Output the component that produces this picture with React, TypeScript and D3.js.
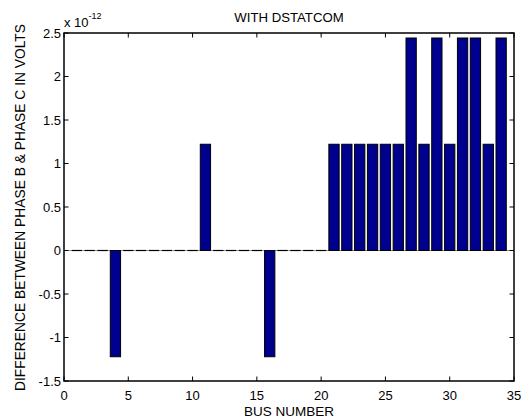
import React from "react";
import * as d3 from "d3";

const busNumbers: number[] = Array.from({ length: 34 }, (_, i) => i + 1);
const diffValues: number[] = [
  0, 0, 0, -1.2212, 0, 0, 0, 0, 0, 0,
  1.2212, 0, 0, 0, 0, -1.2212, 0, 0, 0, 0,
  1.2212, 1.2212, 1.2212, 1.2212, 1.2212, 1.2212, 2.4425, 1.2212, 2.4425, 1.2212,
  2.4425, 2.4425, 1.2212, 2.4425,
];
const xTicks: number[] = [0, 5, 10, 15, 20, 25, 30, 35];
const yTicks: number[] = [-1.5, -1, -0.5, 0, 0.5, 1, 1.5, 2, 2.5];
const yTickLabels: string[] = ["-1.5", "-1", "-0.5", "0", "0.5", "1", "1.5", "2", "2.5"];

const W = 522;
const H = 419;
const L = 64, R = 514, T = 33, B = 381;
const FONT = "Liberation Sans, Arial, sans-serif";

export default function App() {
  const x = d3.scaleLinear().domain([0, 35]).range([L, R]);
  const y = d3.scaleLinear().domain([-1.5, 2.5]).range([B, T]);
  const bw = 0.8;
  const tk = 4.5;
  return (
    <svg width={W} height={H} style={{ position: "absolute", left: 0, top: 0, background: "#fff" }}>
      <rect x={0} y={0} width={W} height={H} fill="#fff" />
      <line x1={x(0)} x2={x(35)} y1={y(0)} y2={y(0)} stroke="#999" strokeWidth={1} />
      {busNumbers.map((b, i) => {
        const v = diffValues[i];
        const x0 = x(b - bw / 2);
        const x1 = x(b + bw / 2);
        if (v === 0) {
          return <line key={b} x1={x0} x2={x1} y1={y(0)} y2={y(0)} stroke="#000" strokeWidth={1.2} />;
        }
        const top = Math.min(y(v), y(0));
        const h = Math.abs(y(v) - y(0));
        return (
          <rect key={b} x={x0} y={top} width={x1 - x0} height={h} fill="#00008F" stroke="#000" strokeWidth={1} />
        );
      })}
      <rect x={L} y={T} width={R - L} height={B - T} fill="none" stroke="#000" strokeWidth={1.5} />
      {xTicks.map((t) => (
        <g key={"x" + t}>
          <line x1={x(t)} x2={x(t)} y1={B} y2={B - tk} stroke="#000" />
          <line x1={x(t)} x2={x(t)} y1={T} y2={T + tk} stroke="#000" />
          <text x={x(t)} y={B + 18.5} fontSize={13} fontFamily={FONT} textAnchor="middle">{t}</text>
        </g>
      ))}
      {yTicks.map((t, i) => (
        <g key={"y" + t}>
          <line x1={L} x2={L + tk} y1={y(t)} y2={y(t)} stroke="#000" />
          <line x1={R} x2={R - tk} y1={y(t)} y2={y(t)} stroke="#000" />
          <text x={L - 3} y={y(t) + 4.5} fontSize={13} fontFamily={FONT} textAnchor="end">{yTickLabels[i]}</text>
        </g>
      ))}
      <text x={64} y={26.5} fontSize={13} fontFamily={FONT}>
        x 10
        <tspan dy={-8} fontSize={9}>-12</tspan>
      </text>
      <text x={(L + R) / 2} y={22} fontSize={13.2} fontFamily={FONT} textAnchor="middle">WITH DSTATCOM</text>
      <text x={(L + R) / 2} y={415.5} fontSize={13.5} fontFamily={FONT} textAnchor="middle">BUS NUMBER</text>
      <text
        transform={`translate(24.5, ${(T + B) / 2 + 0.5}) rotate(-90)`}
        fontSize={13.8}
        fontFamily={FONT}
        textAnchor="middle"
      >
        DIFFERENCE BETWEEN PHASE B &amp; PHASE C IN VOLTS
      </text>
    </svg>
  );
}
